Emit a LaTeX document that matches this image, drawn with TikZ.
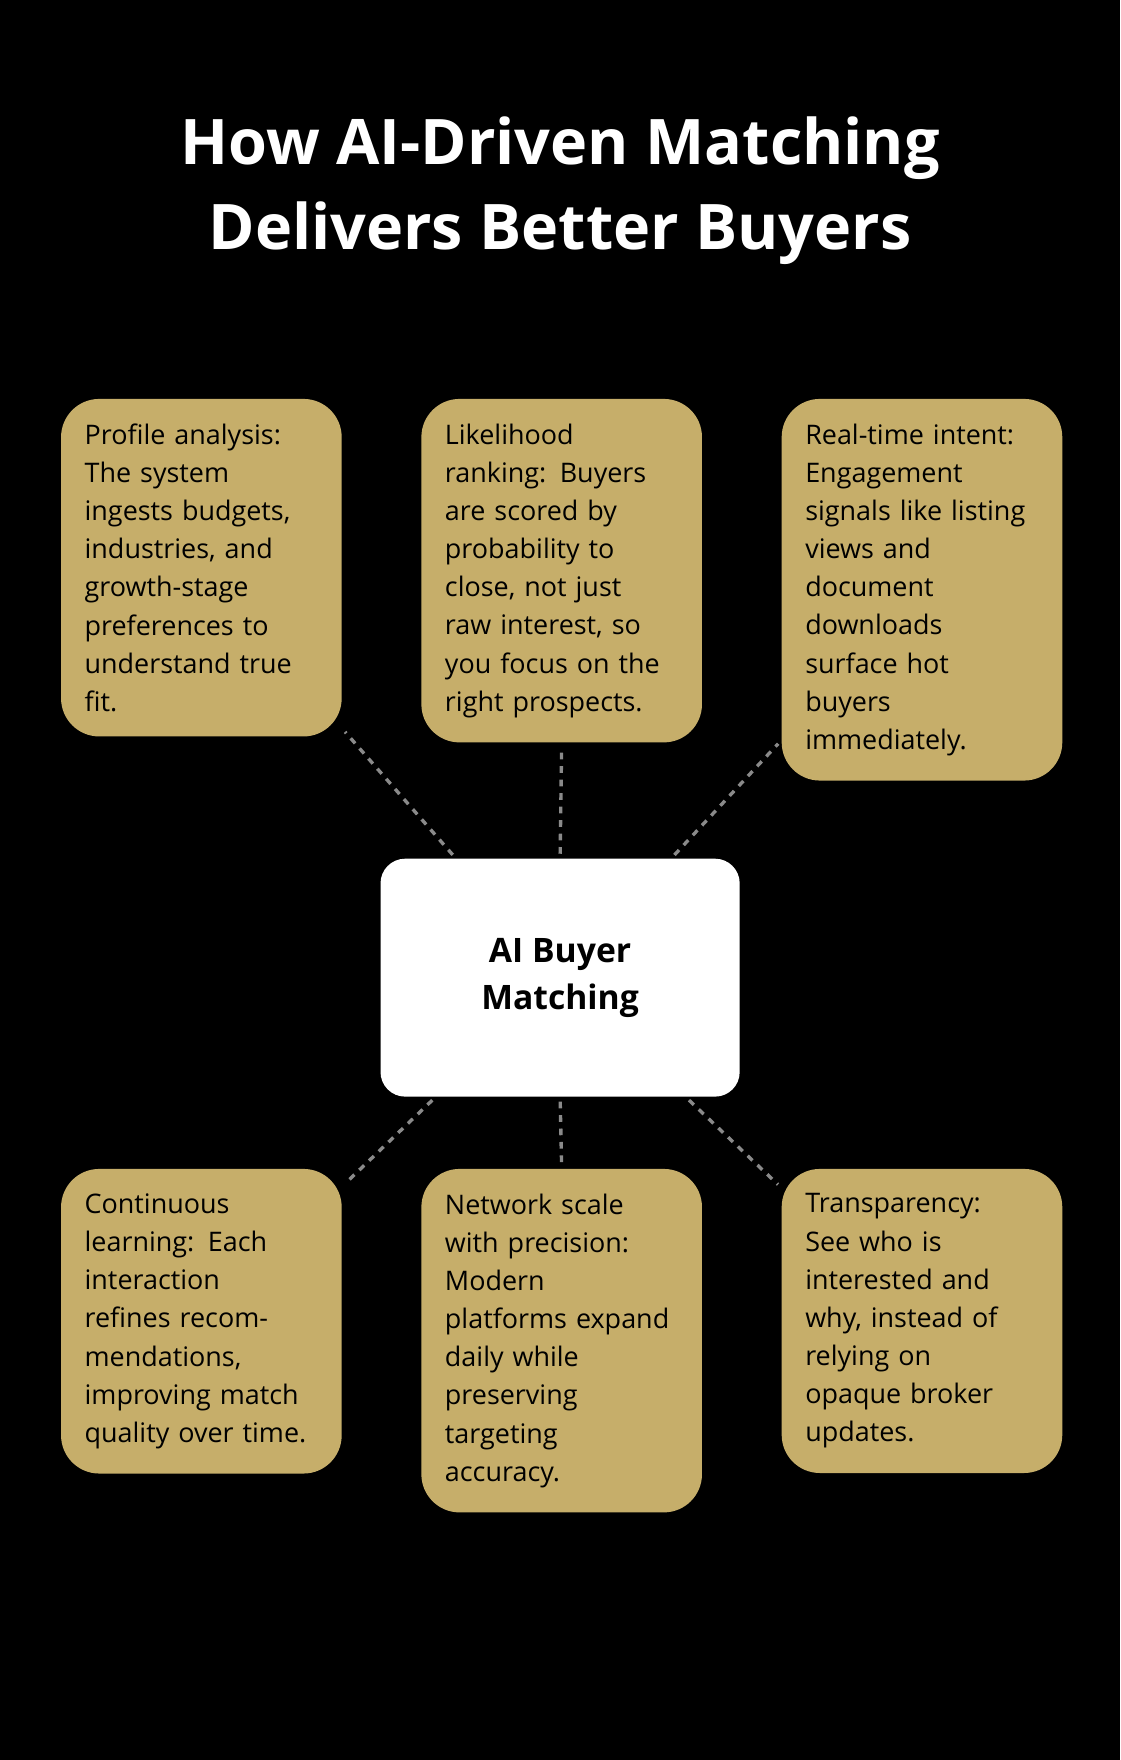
\documentclass[tikz,border=0pt]{standalone}
\usepackage{fontspec}
\setmainfont{Open Sans}
\usetikzlibrary{positioning}
\definecolor{gold}{HTML}{C6AE6A}
\definecolor{dashgray}{HTML}{8A8A8A}

\begin{document}
\begin{tikzpicture}[
    x=0.5pt, y=-0.5pt,
    card/.style={rectangle, rounded corners=17pt, fill=gold, anchor=north west,
      text width=104pt, inner xsep=10.5pt, inner ysep=11pt, align=left,
      font=\fontsize{12pt}{17pt}\selectfont, text=black},
    hub/.style={rectangle, rounded corners=11pt, fill=white, minimum width=160pt,
      minimum height=106pt, align=center, font=\fontsize{15pt}{21pt}\selectfont\bfseries},
    link/.style={draw=dashgray, line width=1.5pt, dash pattern=on 3pt off 3pt,
      shorten <=2pt, shorten >=2pt}
]
    % Background
    \fill[black] (0,0) rectangle (998,1568);

    % Title
    \node[text=white, align=center, font=\fontsize{28pt}{38pt}\selectfont\bfseries]
      (title) at (499,170) {How AI-Driven Matching\\Delivers Better Buyers};

    % Hub
    \node[hub] (hub) at (499,871) {AI Buyer\\Matching};

    % Top row
    \node[card] (profile) at (54,355) {Profile analysis:\\The system\\ingests budgets,\\industries, and\\growth-stage\\preferences to\\understand true\\fit.};
    \node[card] (ranking) at (375,355) {Likelihood\\ranking: Buyers\\are scored by\\probability to\\close, not just\\raw interest, so\\you focus on the\\right prospects.};
    \node[card] (intent) at (696,355) {Real-time intent:\\Engagement\\signals like listing\\views and\\document\\downloads\\surface hot\\buyers\\immediately.};

    % Bottom row
    \node[card] (learning) at (54,1041) {Continuous\\learning: Each\\interaction\\refines recom-\\mendations,\\improving match\\quality over time.};
    \node[card] (network) at (375,1041) {Network scale\\with precision:\\Modern\\platforms expand\\daily while\\preserving\\targeting\\accuracy.};
    \node[card] (transparency) at (696,1041) {Transparency:\\See who is\\interested and\\why, instead of\\relying on\\opaque broker\\updates.};

    % Connectors
    \draw[link] (hub) -- (profile);
    \draw[link] (hub.north) -- (ranking.south);
    \draw[link] (hub) -- (intent);
    \draw[link] (hub) -- (learning);
    \draw[link] (hub.south) -- (network.north);
    \draw[link] (hub) -- (transparency);
\end{tikzpicture}
\end{document}
